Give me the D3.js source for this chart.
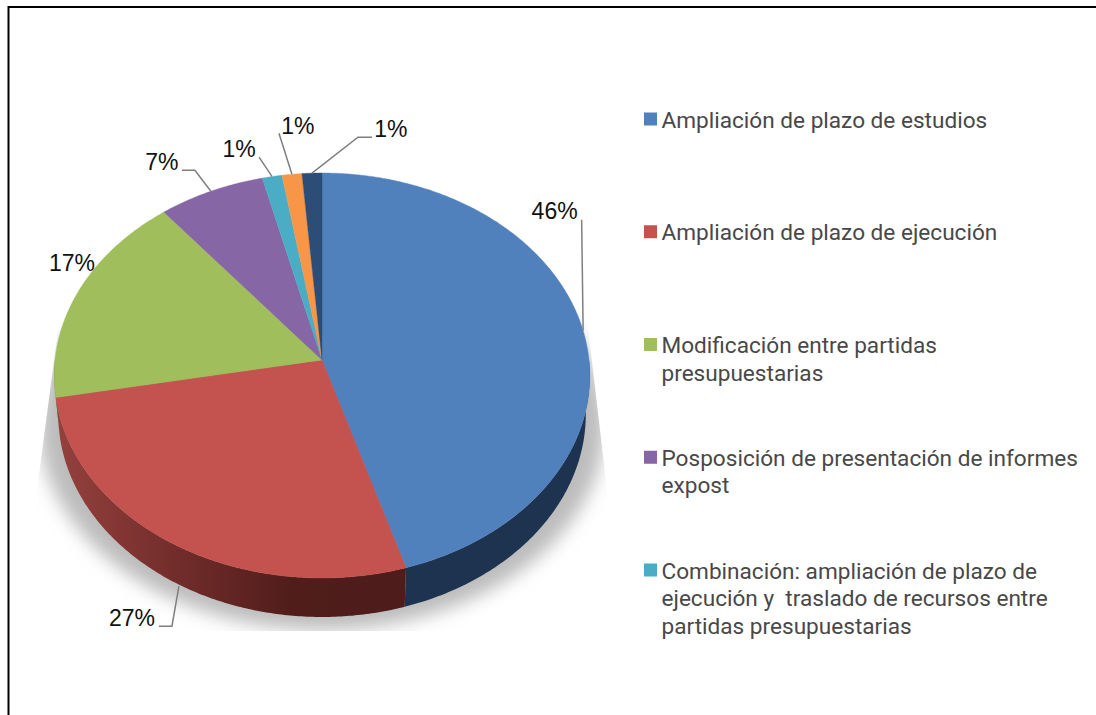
<!DOCTYPE html>
<html>
<head>
<meta charset="utf-8">
<script src="https://cdn.jsdelivr.net/npm/d3@7"></script>
<style>
  html, body { margin: 0; padding: 0; background: #fff; overflow: hidden; }
</style>
</head>
<body>
<div id="plot_area"></div>
<script>
// data
var shares = [45.7, 27, 17.3, 7, 1.3, 1.3, 1.3]
var shareLabels = ["46%", "27%", "17%", "7%", "1%", "1%", "1%"]
var sliceColors = ["#5081bd", "#c4524f", "#a0bf5c", "#8666a4", "#4bacc6", "#f79646", "#2c4d75"]
var legendLines = [
  ["Ampliación de plazo de estudios"],
  ["Ampliación de plazo de ejecución"],
  ["Modificación entre partidas", "presupuestarias"],
  ["Posposición de presentación de informes", "expost"],
  ["Combinación: ampliación de plazo de", "ejecución y  traslado de recursos entre", "partidas presupuestarias"]
]

// label and leader offsets, measured from the rim point of each slice
var labelOffsets = [[-28.5, -120], [-42, 74], [-6, -29], [-49, -30], [-33, -27.5], [6, -49], [79, -44]]
var leaderOffsets = [
  [[-1.5, -111]],
  [[5, 42], [-2, 82], [-15, 82]],
  [],
  [[-16, -21], [-29, -21]],
  [[-13, -19.5]],
  [[-13, -41]],
  [[46, -36], [60, -36]]
]

var width = 1096, height = 715

var svg = d3.select("#plot_area").append("svg")
  .attr("width", width)
  .attr("height", height)
  .style("display", "block")

var defs = svg.append("defs")

defs.append("filter").attr("id", "blur")
  .attr("x", "-20%").attr("y", "-20%").attr("width", "140%").attr("height", "140%")
  .append("feGaussianBlur").attr("stdDeviation", 9)

defs.append("clipPath").attr("id", "shadowClip")
  .append("polygon").attr("points", "586,310 607,490 607,631 37,631 37,490 58,330")

var redSide = defs.append("linearGradient").attr("id", "redSide")
  .attr("gradientUnits", "userSpaceOnUse")
  .attr("x1", 56).attr("x2", 405).attr("y1", 0).attr("y2", 0)
redSide.append("stop").attr("offset", 0).attr("stop-color", "#95413e")
redSide.append("stop").attr("offset", 0.36).attr("stop-color", "#702c2a")
redSide.append("stop").attr("offset", 0.68).attr("stop-color", "#501d1b")
redSide.append("stop").attr("offset", 1).attr("stop-color", "#4e1c1b")

var sideFill = ["#1d3350", "url(#redSide)", "#5d7335", "#4e3d63", "#2d6a7a", "#9a5c2a", "#1b2f48"]

// tilted disc: circle in the plane, projected with some perspective
var cx = 322, cy = 360, a = 267, b = 201.3, k = -0.0765, depth = 39, lowerScale = 0.985

function project(angle) {
  var X = Math.sin(angle), Y = -Math.cos(angle), w = 1 + k * Y
  return [cx + a * X / w, cy + b * Y / w]
}

function projectLower(angle) {
  var p = project(angle)
  return [cx + (p[0] - cx) * lowerScale, p[1] + depth]
}

function angles(start, end) {
  var n = Math.max(2, Math.ceil((end - start) / 0.01))
  return d3.range(n + 1).map(function(i) { return start + (end - start) * i / n })
}

var line = d3.line()

var arcs = d3.pie().sort(null)(shares)

// shadow under the disc
svg.append("g").attr("clip-path", "url(#shadowClip)")
  .append("ellipse")
  .attr("cx", cx).attr("cy", 424)
  .attr("rx", 283).attr("ry", 206)
  .attr("fill", "#bcbcbc")
  .attr("filter", "url(#blur)")

// side wall, only the front half can be seen
var wallFrom = Math.PI / 2, wallTo = 3 * Math.PI / 2
svg.append("g").selectAll("path")
  .data(arcs.filter(function(d) { return d.endAngle > wallFrom && d.startAngle < wallTo }))
  .enter().append("path")
  .attr("d", function(d) {
    var as = angles(Math.max(d.startAngle, wallFrom), Math.min(d.endAngle, wallTo))
    return line(as.map(project).concat(as.slice().reverse().map(projectLower))) + "Z"
  })
  .attr("fill", function(d) { return sideFill[d.index] })

// top face
svg.append("g").selectAll("path")
  .data(arcs)
  .enter().append("path")
  .attr("d", function(d) {
    return line([[cx, cy]].concat(angles(d.startAngle, d.endAngle).map(project))) + "Z"
  })
  .attr("fill", function(d) { return sliceColors[d.index] })
  .attr("stroke", function(d) { return sliceColors[d.index] })
  .attr("stroke-width", 0.4)

function rimPoint(d) {
  return project((d.startAngle + d.endAngle) / 2)
}

// leaders
svg.append("g").selectAll("path")
  .data(arcs.filter(function(d) { return leaderOffsets[d.index].length > 0 }))
  .enter().append("path")
  .attr("d", function(d) {
    var p = rimPoint(d)
    var pts = leaderOffsets[d.index].map(function(o) { return [p[0] + o[0], p[1] + o[1]] })
    // the red leader starts on the wall, not on the rim
    return line(d.index === 1 ? pts : [p].concat(pts))
  })
  .attr("fill", "none")
  .attr("stroke", "#7f7f7f")
  .attr("stroke-width", 1.5)

// percent labels
svg.append("g").selectAll("text")
  .data(arcs)
  .enter().append("text")
  .attr("x", function(d) { return rimPoint(d)[0] + labelOffsets[d.index][0] })
  .attr("y", function(d) { return rimPoint(d)[1] + labelOffsets[d.index][1] })
  .attr("dy", "0.36em")
  .attr("text-anchor", "middle")
  .style("font-family", "'Liberation Sans', Arial, sans-serif")
  .style("font-size", "23px")
  .attr("fill", "#111")
  .text(function(d) { return shareLabels[d.index] })

// legend
var legendY = d3.scalePoint().domain(d3.range(legendLines.length)).range([119, 570])

var legend = svg.append("g").selectAll("g")
  .data(legendLines)
  .enter().append("g")
  .attr("transform", function(d, i) { return "translate(644," + legendY(i) + ")" })

legend.append("rect")
  .attr("x", 0).attr("y", -6.5)
  .attr("width", 13).attr("height", 13)
  .attr("fill", function(d, i) { return sliceColors[i] })

legend.selectAll("text")
  .data(function(d) { return d })
  .enter().append("text")
  .attr("x", 17.5)
  .attr("y", function(d, i) { return 1 + i * 27.5 })
  .attr("dy", "0.34em")
  .style("font-family", "Roboto, 'Liberation Sans', sans-serif")
  .style("font-size", "22.6px")
  .style("white-space", "pre")
  .attr("fill", "#484848")
  .text(function(d) { return d })

// frame around the chart, cut by the window on the right and at the bottom
svg.append("path")
  .attr("d", line([[8.5, height], [8.5, 7], [width, 7]]))
  .attr("fill", "none")
  .attr("stroke", "#000")
  .attr("stroke-width", 2)
</script>
</body>
</html>
